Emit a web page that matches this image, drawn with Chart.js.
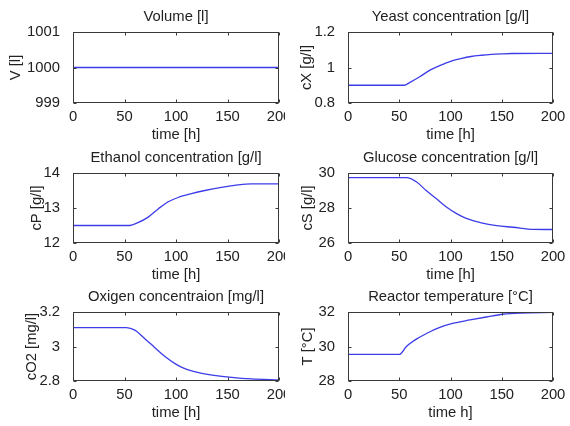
<!DOCTYPE html>
<html>
<head>
<meta charset="utf-8">
<script src="https://cdn.jsdelivr.net/npm/chart.js@4/dist/chart.umd.min.js"></script>
<style>
  html, body { margin: 0; padding: 0; background: #fff; }
  #wrap { position: relative; width: 570px; height: 426px; overflow: hidden; background: #fff; }
  #wrap canvas { position: absolute; }
</style>
</head>
<body>
<div id="wrap"></div>
<script>
// --- data ---
const xTicks = [0, 50, 100, 150, 200];

const tV = [0, 200];
const V = [1000, 1000];
const vTicks = [999, 1000, 1001];

const tX = [0, 55, 60, 70, 80, 90, 100, 110, 120, 130, 140, 150, 160, 200];
const cX = [0.9, 0.9, 0.915, 0.948, 0.985, 1.012, 1.035, 1.05, 1.062, 1.069, 1.074, 1.077, 1.079, 1.08];
const cXTicks = [0.8, 1, 1.2];

const tP = [0, 55, 63, 73, 83, 92, 102, 115, 128, 144, 160, 173, 200];
const cP = [12.5, 12.5, 12.58, 12.74, 12.98, 13.17, 13.3, 13.41, 13.5, 13.59, 13.66, 13.69, 13.69];
const cPTicks = [12, 13, 14];

const tS = [0, 57, 67, 76, 86, 96, 106, 116, 129, 145, 161, 181, 200];
const cS = [29.74, 29.74, 29.49, 29.01, 28.54, 28.06, 27.68, 27.39, 27.17, 26.99, 26.9, 26.78, 26.77];
const cSTicks = [26, 28, 30];

const tO = [0, 52, 60, 70, 79, 89, 99, 108, 121, 137, 154, 173, 200];
const cO2 = [3.11, 3.11, 3.095, 3.044, 2.996, 2.943, 2.901, 2.873, 2.85, 2.833, 2.821, 2.812, 2.806];
const cO2Ticks = [2.8, 3, 3.2];

const tT = [0, 50, 57, 67, 77, 89, 102, 119, 135, 151, 168, 200];
const T = [29.54, 29.54, 30.0, 30.44, 30.77, 31.1, 31.34, 31.54, 31.71, 31.87, 31.94, 31.98];
const TTicks = [28, 30, 32];

// --- panels (row, col) ---
const panels = [
  { row: 0, col: 0, title: 'Volume [l]', ylabel: 'V [l]', xlabel: 'time [h]', t: tV, v: V, ticks: vTicks, ylx: 16 },
  { row: 0, col: 1, title: 'Yeast concentration [g/l]', ylabel: 'cX [g/l]', xlabel: 'time [h]', t: tX, v: cX, ticks: cXTicks, ylx: 22 },
  { row: 1, col: 0, title: 'Ethanol concentration [g/l]', ylabel: 'cP [g/l]', xlabel: 'time [h]', t: tP, v: cP, ticks: cPTicks, ylx: 37 },
  { row: 1, col: 1, title: 'Glucose concentration [g/l]', ylabel: 'cS [g/l]', xlabel: 'time [h]', t: tS, v: cS, ticks: cSTicks, ylx: 23 },
  { row: 2, col: 0, title: 'Oxigen concentraion [mg/l]', ylabel: 'cO2 [mg/l]', xlabel: 'time [h]', t: tO, v: cO2, ticks: cO2Ticks, ylx: 32 },
  { row: 2, col: 1, title: 'Reactor temperature [°C]', ylabel: 'T [°C]', xlabel: 'time h]', t: tT, v: T, ticks: TTicks, ylx: 23 }
];

// layout of each cell (canvas px)
const CW = 285, CH = 146;
const colLeft = [0, 285];
const rowTop = [0, 140, 280];
const plotL = [73, 63];
const plotR = [279, 268];
const plotT = [32, 33, 32];
const plotB = [103, 103, 101];

const FS = 14.8, LH = FS * 1.2;
Chart.defaults.font.family = "'Liberation Sans', Arial, sans-serif";
Chart.defaults.font.size = FS;
Chart.defaults.color = '#222';

// MATLAB-like box with inward ticks on all four sides
const framePlugin = {
  id: 'frame',
  afterDraw(chart) {
    const { ctx, chartArea: a, scales: { x, y } } = chart;
    const L = Math.round(a.left) + 0.5, R = Math.round(a.right) - 0.5;
    const Tp = Math.round(a.top) + 0.5, B = Math.round(a.bottom) - 0.5;
    ctx.save();
    ctx.strokeStyle = '#3a3a3a';
    ctx.lineWidth = 1;
    ctx.strokeRect(L, Tp, R - L, B - Tp);
    ctx.beginPath();
    x.ticks.forEach(tk => {
      const px = Math.round(x.getPixelForValue(tk.value)) + 0.5;
      ctx.moveTo(px, B); ctx.lineTo(px, B - 3);
      ctx.moveTo(px, Tp); ctx.lineTo(px, Tp + 3);
    });
    y.ticks.forEach(tk => {
      const py = Math.round(y.getPixelForValue(tk.value)) + 0.5;
      ctx.moveTo(L, py); ctx.lineTo(L + 3, py);
      ctx.moveTo(R, py); ctx.lineTo(R - 3, py);
    });
    ctx.stroke();
    ctx.restore();
  }
};

const wrap = document.getElementById('wrap');

panels.forEach(p => {
  const cv = document.createElement('canvas');
  cv.width = CW; cv.height = CH;
  cv.style.left = colLeft[p.col] + 'px';
  cv.style.top = rowTop[p.row] + 'px';
  wrap.appendChild(cv);

  const top = plotT[p.row], bottom = plotB[p.row];
  const titleCenter = top - 15;
  const xlabelCenter = bottom + 32;

  new Chart(cv.getContext('2d'), {
    type: 'line',
    data: {
      datasets: [{
        data: p.t.map((t, i) => ({ x: t, y: p.v[i] })),
        borderColor: 'rgb(60,60,232)',
        borderWidth: 1.3,
        pointRadius: 0,
        fill: false,
        cubicInterpolationMode: 'monotone'
      }]
    },
    options: {
      responsive: false,
      animation: false,
      devicePixelRatio: 1,
      layout: { padding: { left: 0, right: CW - plotR[p.col], top: 0, bottom: 0 } },
      plugins: {
        legend: { display: false },
        tooltip: { enabled: false },
        title: {
          display: true,
          fullSize: false,
          text: p.title,
          color: '#222',
          font: { size: FS, weight: 'normal' },
          padding: { top: titleCenter - LH / 2, bottom: top - titleCenter - LH / 2 }
        }
      },
      scales: {
        x: {
          type: 'linear',
          min: 0, max: 200,
          grid: { display: false },
          border: { display: false },
          afterBuildTicks: s => { s.ticks = xTicks.map(v => ({ value: v })); },
          ticks: { padding: -3, maxRotation: 0, autoSkip: false, callback: v => String(v) },
          title: {
            display: true, text: p.xlabel, color: '#222',
            padding: { top: 0, bottom: CH - xlabelCenter - LH / 2 }
          },
          afterFit: s => { s.height = CH - bottom; s.paddingLeft = 0; s.paddingRight = 0; }
        },
        y: {
          type: 'linear',
          min: p.ticks[0], max: p.ticks[p.ticks.length - 1],
          grid: { display: false },
          border: { display: false },
          afterBuildTicks: s => { s.ticks = p.ticks.map(v => ({ value: v })); },
          ticks: { padding: 5, autoSkip: false, callback: v => String(+v.toFixed(3)) },
          title: {
            display: true, text: p.ylabel, color: '#222',
            padding: { top: p.ylx - LH / 2, bottom: 0 }
          },
          afterFit: s => { s.width = plotL[p.col]; s.paddingTop = 0; s.paddingBottom = 0; }
        }
      }
    },
    plugins: [framePlugin]
  });
});
</script>
</body>
</html>
